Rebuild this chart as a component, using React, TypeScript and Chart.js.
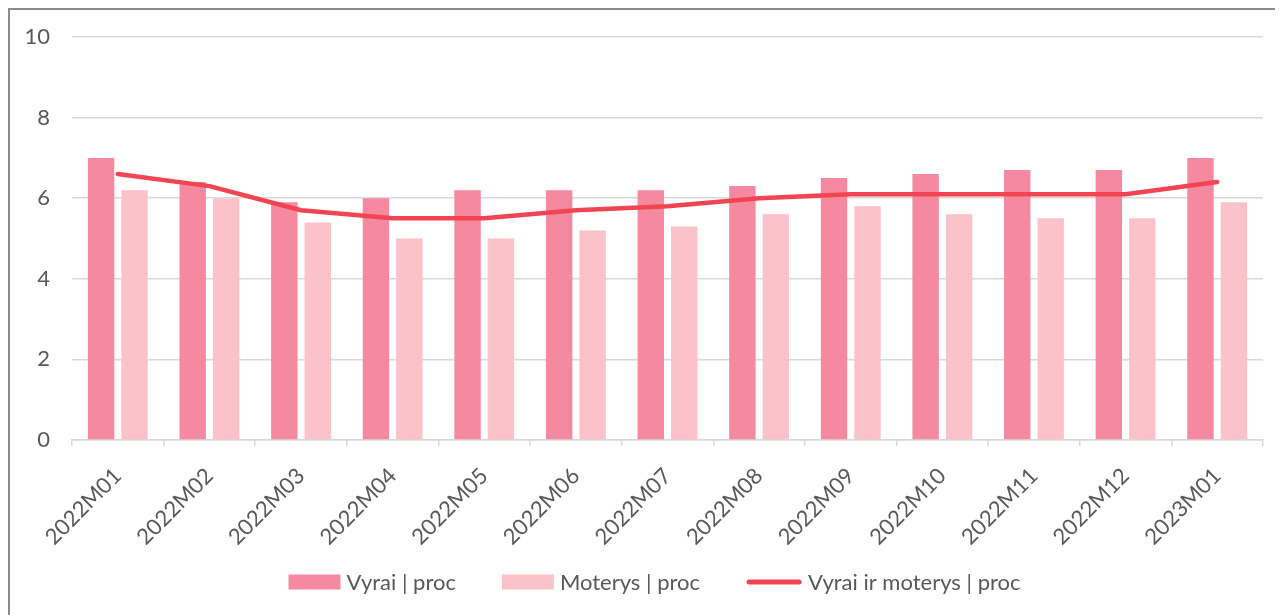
import React, { useEffect, useRef } from "react";
import { Chart, registerables } from "chart.js";

Chart.register(...registerables);

const categories = [
  "2022M01", "2022M02", "2022M03", "2022M04", "2022M05", "2022M06", "2022M07",
  "2022M08", "2022M09", "2022M10", "2022M11", "2022M12", "2023M01",
];
const menValues = [7.0, 6.4, 5.9, 6.0, 6.2, 6.2, 6.2, 6.3, 6.5, 6.6, 6.7, 6.7, 7.0];
const womenValues = [6.2, 6.0, 5.4, 5.0, 5.0, 5.2, 5.3, 5.6, 5.8, 5.6, 5.5, 5.5, 5.9];
const totalValues = [6.6, 6.3, 5.7, 5.5, 5.5, 5.7, 5.8, 6.0, 6.1, 6.1, 6.1, 6.1, 6.4];
const seriesNames = ["Vyrai | proc", "Moterys | proc", "Vyrai ir moterys | proc"];

const FONT = "Lato";
const FS = 22;
const TEXT = "#595959";
const GRID = "#d9d9d9";
const MEN_COLOR = "#f4899f";
const WOMEN_COLOR = "#fbc2c9";
const TOTAL_COLOR = "#f24452";

// Custom bottom legend drawn on the canvas (Excel-like spacing)
const bottomLegend = {
  id: "bottomLegend",
  afterDraw(chart: any) {
    const ctx = chart.ctx as CanvasRenderingContext2D;
    const boxW = 52;
    const boxH = 15;
    const lineW = 56;
    const gapBoxText = 6;
    const gapItems = 46;
    ctx.save();
    ctx.font = `${FS}px ${FONT}`;
    ctx.textBaseline = "middle";
    ctx.textAlign = "left";
    const items = chart.data.datasets.map((ds: any) => {
      const isLine = ds.type === "line";
      const sw = isLine ? lineW : boxW;
      const tw = ctx.measureText(ds.label).width;
      return { ds, isLine, sw, tw };
    });
    const total =
      items.reduce((s: number, it: any) => s + it.sw + gapBoxText + it.tw, 0) +
      gapItems * (items.length - 1);
    let x = chart.width / 2 + 8 - total / 2;
    const y = chart.height - 33;
    for (const it of items) {
      if (it.isLine) {
        ctx.strokeStyle = it.ds.borderColor;
        ctx.lineWidth = 5;
        ctx.lineCap = "round";
        ctx.beginPath();
        ctx.moveTo(x + 3, y);
        ctx.lineTo(x + it.sw - 3, y);
        ctx.stroke();
      } else {
        ctx.fillStyle = it.ds.backgroundColor;
        ctx.fillRect(x, y - boxH / 2, it.sw, boxH);
      }
      x += it.sw + gapBoxText;
      ctx.fillStyle = TEXT;
      ctx.fillText(it.ds.label, x, y + 1);
      x += it.tw + gapItems;
    }
    ctx.restore();
  },
};

export default function App() {
  const ref = useRef<HTMLCanvasElement | null>(null);

  useEffect(() => {
    if (!ref.current) return;
    const chart = new Chart(ref.current, {
      type: "bar",
      data: {
        labels: categories,
        datasets: [
          {
            type: "bar",
            label: seriesNames[0],
            data: menValues,
            backgroundColor: MEN_COLOR,
            borderWidth: 0,
            order: 2,
            barPercentage: 0.79,
            categoryPercentage: 0.73,
          },
          {
            type: "bar",
            label: seriesNames[1],
            data: womenValues,
            backgroundColor: WOMEN_COLOR,
            borderWidth: 0,
            order: 2,
            barPercentage: 0.79,
            categoryPercentage: 0.73,
          },
          {
            type: "line",
            label: seriesNames[2],
            data: totalValues,
            borderColor: TOTAL_COLOR,
            backgroundColor: TOTAL_COLOR,
            borderWidth: 4.5,
            borderCapStyle: "round",
            borderJoinStyle: "round",
            pointRadius: 0,
            tension: 0,
            order: 1,
          },
        ],
      },
      plugins: [bottomLegend],
      options: {
        responsive: false,
        animation: false,
        layout: { padding: { top: 27, right: 20, left: 0, bottom: 65 } },
        plugins: {
          tooltip: { enabled: false },
          legend: { display: false },
        },
        scales: {
          x: {
            grid: {
              display: true,
              drawOnChartArea: false,
              drawTicks: true,
              tickLength: 6,
              color: GRID,
              lineWidth: 1.5,
              offset: true,
            },
            border: { display: true, color: GRID, width: 1.5 },
            ticks: {
              font: { family: FONT, size: FS },
              color: TEXT,
              minRotation: 45,
              maxRotation: 45,
              padding: 17,
              autoSkip: false,
            },
            afterFit: (scale: any) => {
              scale.height = 110;
            },
          },
          y: {
            min: 0,
            max: 10,
            ticks: {
              stepSize: 2,
              font: { family: FONT, size: FS },
              color: TEXT,
              padding: 22,
            },
            grid: { color: GRID, lineWidth: 1.5, drawTicks: false },
            border: { display: false },
            afterFit: (scale: any) => {
              scale.width = 62;
              scale.paddingTop = 0;
              scale.paddingBottom = 0;
            },
          },
        },
      },
    });
    return () => chart.destroy();
  }, []);

  return (
    <div
      style={{
        width: 1273,
        height: 607,
        borderLeft: "2px solid #8c8c8c",
        borderTop: "2px solid #8c8c8c",
        overflow: "hidden",
        background: "#fff",
      }}
    >
      <canvas ref={ref} width={1273} height={605} style={{ display: "block" }} />
    </div>
  );
}
